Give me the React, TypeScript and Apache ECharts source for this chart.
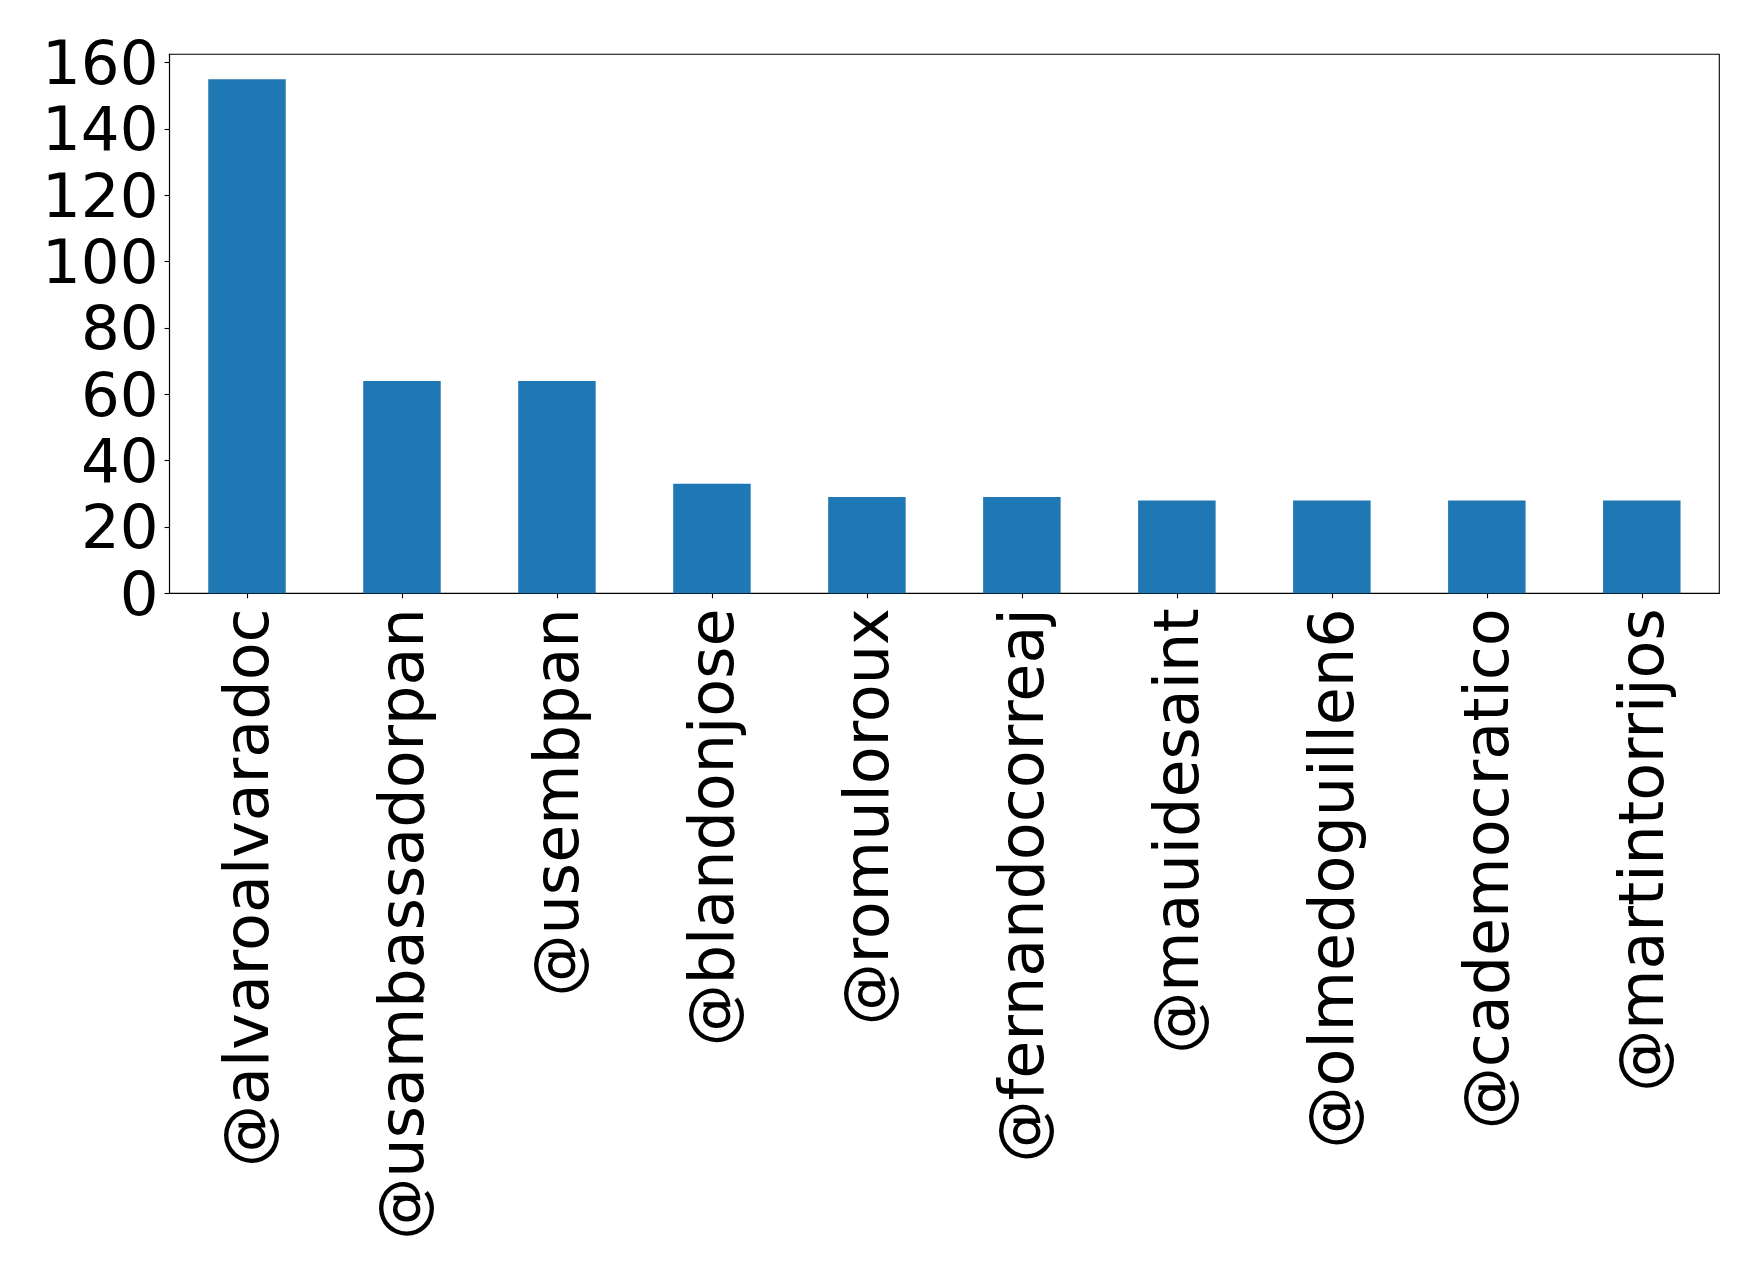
import React, { useEffect, useRef } from "react";
import * as echarts from "echarts";

const categories = [
  "@alvaroalvaradoc",
  "@usambassadorpan",
  "@usembpan",
  "@blandonjose",
  "@romuloroux",
  "@fernandocorreaj",
  "@mauidesaint",
  "@olmedoguillen6",
  "@cademocratico",
  "@martintorrijos",
];
const counts = [155, 64, 64, 33, 29, 29, 28, 28, 28, 28];
const yTicks = [0, 20, 40, 60, 80, 100, 120, 140, 160];

const FONT = "DejaVu Sans";

export default function App() {
  const ref = useRef<HTMLDivElement>(null);
  useEffect(() => {
    if (!ref.current) return;
    const chart = echarts.init(ref.current, null, { renderer: "svg" });
    chart.setOption({
      animation: false,
      backgroundColor: "#ffffff",
      grid: {
        left: 169.5,
        top: 54.3,
        right: 38.7,
        bottom: 684.7,
        show: true,
        borderColor: "#000000",
        borderWidth: 1.1,
        containLabel: false,
      },
      xAxis: {
        type: "category",
        data: categories,
        axisLine: { show: true, lineStyle: { color: "#000", width: 1.1 } },
        axisTick: { show: true, alignWithLabel: true, length: 5, lineStyle: { color: "#000", width: 1.1 } },
        axisLabel: {
          rotate: 90,
          interval: 0,
          margin: 15,
          fontSize: 62,
          fontFamily: FONT,
          color: "#000",
          lineHeight: 64,
        },
        splitLine: { show: false },
      },
      yAxis: {
        type: "value",
        min: 0,
        max: 162.5,
        interval: 20,
        axisLine: { show: true, lineStyle: { color: "#000", width: 1.1 } },
        axisTick: { show: true, length: 5, lineStyle: { color: "#000", width: 1.1 } },
        axisLabel: {
          margin: 11,
          fontSize: 61,
          lineHeight: 50,
          fontFamily: FONT,
          color: "#000",
          showMaxLabel: false,
          formatter: (v: number) => (yTicks.includes(v) ? String(v) : ""),
        },
        splitLine: { show: false },
      },
      series: [
        {
          type: "bar",
          data: counts,
          barWidth: "50%",
          itemStyle: { color: "#1f77b4" },
        },
      ],
    });
    return () => chart.dispose();
  }, []);
  return (
    <div
      ref={ref}
      style={{ position: "absolute", left: 0, top: 0, width: 1758, height: 1278 }}
    />
  );
}
